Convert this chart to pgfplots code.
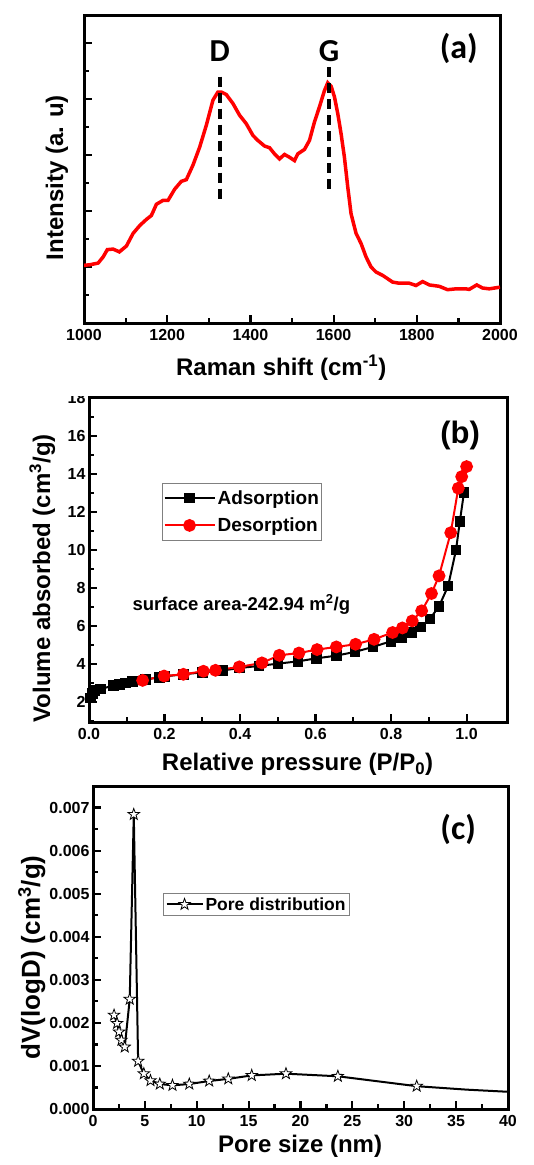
\documentclass[border=0pt]{standalone}
\usepackage{fontspec}
\setmainfont{Liberation Sans}
\newfontfamily\carlito{Carlito}
\usepackage{pgfplots}
\pgfplotsset{compat=1.18}

% hollow five-pointed star
\pgfdeclareplotmark{ostar}{%
  \pgfpathmoveto{\pgfpointpolar{90}{\pgfplotmarksize}}%
  \pgfpathlineto{\pgfpointpolar{126}{0.40\pgfplotmarksize}}%
  \pgfpathlineto{\pgfpointpolar{162}{\pgfplotmarksize}}%
  \pgfpathlineto{\pgfpointpolar{198}{0.40\pgfplotmarksize}}%
  \pgfpathlineto{\pgfpointpolar{234}{\pgfplotmarksize}}%
  \pgfpathlineto{\pgfpointpolar{270}{0.40\pgfplotmarksize}}%
  \pgfpathlineto{\pgfpointpolar{306}{\pgfplotmarksize}}%
  \pgfpathlineto{\pgfpointpolar{342}{0.40\pgfplotmarksize}}%
  \pgfpathlineto{\pgfpointpolar{18}{\pgfplotmarksize}}%
  \pgfpathlineto{\pgfpointpolar{54}{0.40\pgfplotmarksize}}%
  \pgfpathclose
  \pgfusepathqfillstroke}

\pgfplotsset{
  panel/.style={
    scale only axis,
    anchor=north west,
    axis line style={line width=3pt},
    tick align=inside,
    tick pos=left,
    major tick length=8pt,
    minor tick length=5pt,
    every tick/.style={black, line width=2.2pt},
    tick label style={font=\fontsize{16}{16}\selectfont\bfseries,
      /pgf/number format/assume math mode=true,
      /pgf/number format/1000 sep={}},
    xticklabel style={yshift=-3pt},
    label style={font=\fontsize{24}{24}\selectfont\bfseries},
    legend cell align=left,
  },
}

\begin{document}
\begin{tikzpicture}
\useasboundingbox (0pt,0pt) rectangle (533pt,-1165pt);

% ---------------- (b) ----------------
\begin{axis}[panel, at={(89pt,-397pt)},
    width=418pt, height=325pt,
    xmin=0, xmax=1.107, ymin=0.95, ymax=18.05,
    xtick={0,0.2,0.4,0.6,0.8,1.0},
    minor xtick={0.1,0.3,0.5,0.7,0.9},
    ytick={2,4,...,18},
    minor ytick={1,3,...,17},
    xticklabel style={/pgf/number format/.cd, fixed, fixed zerofill, precision=1},
    xlabel={Relative pressure (P/P\textsubscript{0})},
    ylabel={Volume absorbed (cm\textsuperscript{3}/g)},
    xlabel style={at={(axis description cs:0.499,-0.150)}, anchor=base},
    ylabel style={at={(axis description cs:-0.093,0.442)}, anchor=base},
    legend style={at={(axis description cs:0.175,0.735)}, anchor=north west,
      draw=gray, line width=0.8pt, font=\fontsize{19}{19}\selectfont\bfseries,
      inner xsep=1pt, inner ysep=5pt, row sep=8pt},
    legend image code/.code={\draw[mark repeat=2,mark phase=2,#1]
      plot coordinates {(0pt,0pt) (25pt,0pt) (50pt,0pt)};},
  ]
\addplot[black, line width=2pt, mark=square*, mark size=4.3pt] coordinates {
(0.004,2.22) (0.009,2.45) (0.015,2.60) (0.030,2.68) (0.065,2.87) (0.080,2.93)
(0.097,3.01) (0.115,3.08) (0.150,3.19) (0.186,3.30) (0.200,3.35) (0.250,3.46)
(0.300,3.56) (0.354,3.66) (0.398,3.79) (0.450,3.90) (0.500,4.02) (0.553,4.14)
(0.602,4.30) (0.655,4.44) (0.704,4.64) (0.752,4.90) (0.800,5.20) (0.827,5.37)
(0.854,5.66) (0.878,5.95) (0.903,6.38) (0.927,7.04) (0.951,8.10) (0.972,10.01)
(0.982,11.49) (0.993,13.02)
};
\addlegendentry{Adsorption}
\addplot[red, line width=2pt, mark=*, mark size=5.4pt] coordinates {
(0.142,3.14) (0.199,3.37) (0.250,3.46) (0.303,3.62) (0.335,3.67) (0.398,3.85)
(0.458,4.06) (0.504,4.46) (0.556,4.58) (0.604,4.76) (0.655,4.90) (0.706,5.04)
(0.755,5.30) (0.804,5.66) (0.830,5.90) (0.856,6.27) (0.881,6.80) (0.907,7.71)
(0.927,8.64) (0.958,10.91) (0.978,13.25) (0.987,13.86) (1.000,14.39)
};
\addlegendentry{Desorption}
\node[anchor=base west, font=\fontsize{18.5}{18.5}\selectfont\bfseries]
  at (axis cs:0.106,6.83) {surface area-242.94 m\textsuperscript{2}/g};
\node[font=\fontsize{31}{31}\selectfont\bfseries] at (axis cs:0.983,16.0) {(b)};
\end{axis}
\fill[white] (0pt,-380pt) rectangle (86pt,-396pt);

% ---------------- (a) ----------------
\begin{axis}[panel, at={(84pt,-15pt)},
    width=416pt, height=308pt,
    xmin=1000, xmax=2000, ymin=0, ymax=5.5,
    xtick={1000,1200,...,2000},
    minor xtick={1100,1300,...,1900},
    ytick={1,2,3,4,5}, yticklabels={},
    minor ytick={0.5,1.5,...,4.5},
    xlabel={Raman shift (cm\textsuperscript{-1})},
    ylabel={Intensity (a. u)},
    xlabel style={at={(axis description cs:0.474,-0.169)}, anchor=base},
    ylabel style={at={(axis description cs:-0.05,0.472)}, anchor=base},
  ]
\addplot[red, line width=3.5pt] coordinates {
(1000,1.03) (1014,1.04) (1034,1.07) (1046,1.18) (1056,1.31) (1070,1.32)
(1085,1.27) (1102,1.375) (1118,1.60) (1134,1.74) (1150,1.85) (1162,1.92)
(1174,2.12) (1190,2.19) (1202,2.19) (1218,2.39) (1234,2.53) (1246,2.56)
(1262,2.82) (1278,3.14) (1294,3.53) (1310,3.98) (1322,4.125) (1330,4.125)
(1342,4.08) (1358,3.92) (1374,3.71) (1390,3.56) (1406,3.35) (1418,3.26)
(1434,3.16) (1446,3.13) (1458,3.02) (1470,2.93) (1482,3.01) (1494,2.96)
(1506,2.90) (1514,3.02) (1530,3.10) (1542,3.26) (1554,3.59) (1566,3.86)
(1578,4.15) (1586,4.29) (1594,4.23) (1602,4.04) (1610,3.74) (1618,3.38)
(1626,2.96) (1634,2.43) (1642,1.95) (1654,1.60) (1666,1.42) (1678,1.18)
(1690,1.00) (1702,0.91) (1718,0.85) (1730,0.79) (1742,0.73) (1758,0.71)
(1782,0.71) (1798,0.67) (1814,0.74) (1830,0.68) (1854,0.655) (1874,0.595)
(1894,0.61) (1918,0.61) (1926,0.60) (1944,0.68) (1958,0.625) (1974,0.61)
(2000,0.64)
};
\addplot[black, line width=4pt, dash pattern=on 10pt off 6pt] coordinates {(1326,4.40) (1326,2.14)};
\addplot[black, line width=4pt, dash pattern=on 10pt off 6pt] coordinates {(1589,4.57) (1589,2.30)};
\node[font=\carlito\fontsize{32}{32}\selectfont\bfseries] at (axis cs:1326,4.86) {D};
\node[font=\carlito\fontsize{32}{32}\selectfont\bfseries] at (axis cs:1589,4.86) {G};
\node[font=\carlito\fontsize{34}{34}\selectfont\bfseries] at (axis cs:1901,4.9) {(a)};
\end{axis}

% ---------------- (c) ----------------
\begin{axis}[panel, at={(93pt,-786pt)},
    width=415pt, height=323pt,
    xmin=0, xmax=40, ymin=0, ymax=0.0075,
    xtick={0,5,...,40},
    minor xtick={2.5,7.5,...,37.5},
    ytick={0,0.001,...,0.007},
    minor ytick={0.0005,0.0015,...,0.0065},
    scaled y ticks=false,
    yticklabel style={/pgf/number format/.cd, fixed, fixed zerofill, precision=3},
    xlabel={Pore size (nm)},
    ylabel={dV(logD) (cm\textsuperscript{3}/g)},
    xlabel style={at={(axis description cs:0.499,-0.136)}, anchor=base},
    ylabel style={at={(axis description cs:-0.128,0.469)}, anchor=base,
      font=\fontsize{26}{26}\selectfont\bfseries},
    legend style={at={(axis description cs:0.169,0.669)}, anchor=north west,
      draw=gray, line width=0.8pt, font=\fontsize{17.5}{17.5}\selectfont\bfseries,
      inner sep=2pt},
    legend image code/.code={\draw[mark repeat=2,mark phase=2,#1]
      plot coordinates {(0pt,0pt) (18pt,0pt) (36pt,0pt)};},
  ]
\addplot[black, line width=2pt, forget plot] coordinates {(31.2,0.00053) (36,0.00045) (40,0.00040)};
\addplot[black, line width=2pt, mark=ostar, mark size=6pt,
  mark options={fill=white, line width=0.8pt}] coordinates {
(2.03,0.00218) (2.32,0.00199) (2.51,0.00179) (2.74,0.00160) (3.06,0.00144)
(3.54,0.00255) (3.93,0.00684) (4.35,0.00111) (4.90,0.00082) (5.54,0.00066)
(6.44,0.00058) (7.66,0.00055) (9.28,0.00058) (11.2,0.00065) (13.04,0.00070)
(15.3,0.00078) (18.6,0.00082) (23.6,0.00076) (31.2,0.00053)
};
\addlegendentry{Pore distribution}
\node[font=\carlito\fontsize{34}{34}\selectfont\bfseries] at (axis cs:35.2,0.0065) {(c)};
\end{axis}
\end{tikzpicture}
\end{document}
